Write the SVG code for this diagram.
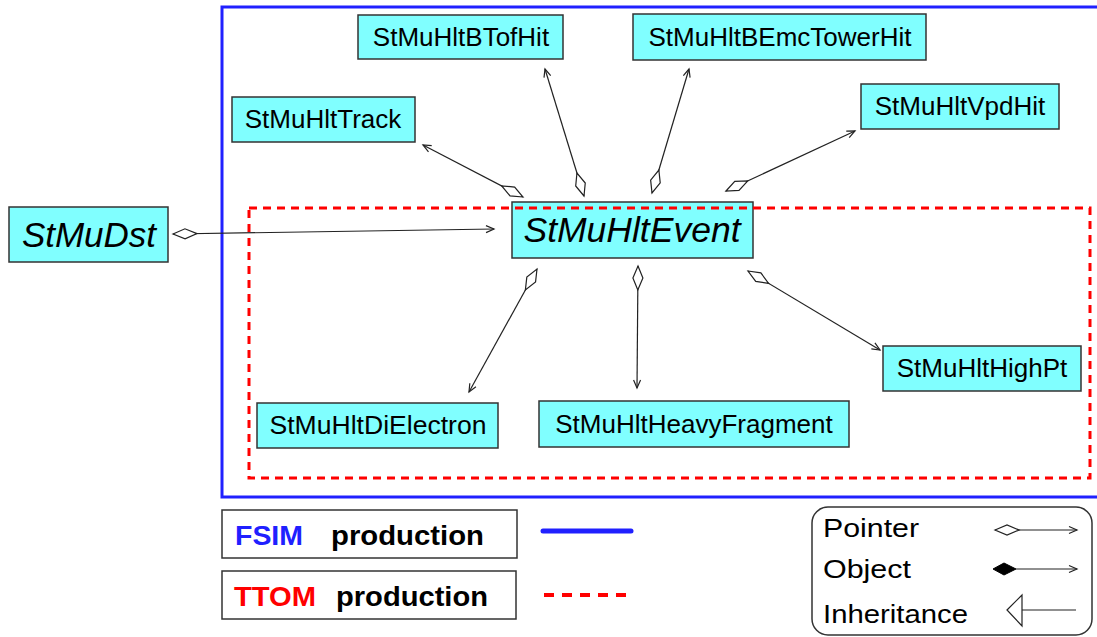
<svg xmlns="http://www.w3.org/2000/svg" width="1097" height="637" viewBox="0 0 1097 637">
  <style>
    .node rect { fill: #80ffff; stroke: #333333; stroke-width: 1.5; }
    .node text { font-family: "Liberation Sans", Arial, sans-serif; font-size: 26px; fill: #000; text-anchor: middle; }
    .node text.main { font-size: 35px; font-style: italic; }
    .conn line { stroke: #222222; stroke-width: 1.2; fill: none; }
    .legend text { font-family: "Liberation Sans", Arial, sans-serif; fill: #000; }
    .legend .bold { font-weight: bold; font-size: 27px; }
    .legend .reg { font-size: 26px; }
  </style>
  <defs>
    <marker id="diamond" markerUnits="userSpaceOnUse" markerWidth="30" markerHeight="14" viewBox="-1 -7 28 14" refX="0" refY="0" orient="auto">
      <path d="M0,0 L12,-5 L24,0 L12,5 Z" fill="#ffffff" stroke="#222222" stroke-width="1.2"/>
    </marker>
    <marker id="arrow" markerUnits="userSpaceOnUse" markerWidth="12" markerHeight="10" viewBox="-10 -5 12 10" refX="0" refY="0" orient="auto">
      <path d="M-8,-3.5 L0,0 L-8,3.5" fill="none" stroke="#222222" stroke-width="1.2"/>
    </marker>
  </defs>

  <rect x="0" y="0" width="1097" height="637" fill="#ffffff"/>

  <!-- FSIM production frame (solid blue) -->
  <rect x="222" y="7" width="900" height="490" fill="none" stroke="#2020ff" stroke-width="3"/>

  <!-- connectors -->
  <g id="connectors" class="conn">
    <line x1="523" y1="197" x2="423" y2="145" marker-start="url(#diamond)" marker-end="url(#arrow)"/>
    <line x1="584" y1="196" x2="545" y2="69" marker-start="url(#diamond)" marker-end="url(#arrow)"/>
    <line x1="652" y1="193" x2="689" y2="69" marker-start="url(#diamond)" marker-end="url(#arrow)"/>
    <line x1="726" y1="191" x2="855" y2="131" marker-start="url(#diamond)" marker-end="url(#arrow)"/>
    <line x1="173" y1="234" x2="494" y2="229" marker-start="url(#diamond)" marker-end="url(#arrow)"/>
    <line x1="537" y1="269" x2="469" y2="392" marker-start="url(#diamond)" marker-end="url(#arrow)"/>
    <line x1="638" y1="266" x2="637" y2="388" marker-start="url(#diamond)" marker-end="url(#arrow)"/>
    <line x1="748" y1="271" x2="880" y2="350" marker-start="url(#diamond)" marker-end="url(#arrow)"/>
  </g>

  <!-- class nodes -->
  <g id="StMuDst" class="node">
    <rect x="9" y="207" width="159" height="55"/>
    <text class="main" x="89" y="247">StMuDst</text>
  </g>
  <g id="StMuHltEvent" class="node">
    <rect x="512" y="202" width="241" height="56"/>
    <text class="main" x="632" y="242" textLength="217" lengthAdjust="spacingAndGlyphs">StMuHltEvent</text>
  </g>
  <g id="StMuHltTrack" class="node">
    <rect x="232" y="97" width="183" height="45"/>
    <text x="323" y="128">StMuHltTrack</text>
  </g>
  <g id="StMuHltBTofHit" class="node">
    <rect x="358" y="15" width="205" height="44"/>
    <text x="461" y="46">StMuHltBTofHit</text>
  </g>
  <g id="StMuHltBEmcTowerHit" class="node">
    <rect x="633" y="14" width="293" height="46"/>
    <text x="780" y="46">StMuHltBEmcTowerHit</text>
  </g>
  <g id="StMuHltVpdHit" class="node">
    <rect x="861" y="84" width="198" height="45"/>
    <text x="960" y="115">StMuHltVpdHit</text>
  </g>
  <g id="StMuHltDiElectron" class="node">
    <rect x="257" y="403" width="241" height="45"/>
    <text x="378" y="434" textLength="217" lengthAdjust="spacingAndGlyphs">StMuHltDiElectron</text>
  </g>
  <g id="StMuHltHeavyFragment" class="node">
    <rect x="539" y="401" width="310" height="46"/>
    <text x="694" y="433">StMuHltHeavyFragment</text>
  </g>
  <g id="StMuHltHighPt" class="node">
    <rect x="883" y="346" width="198" height="45"/>
    <text x="982" y="377">StMuHltHighPt</text>
  </g>

  <!-- TTOM production frame (dashed red), drawn over the event box -->
  <rect x="249" y="208" width="841" height="270" fill="none" stroke="#ff0000" stroke-width="3" stroke-dasharray="8 6"/>

  <!-- production legend -->
  <g id="legend-production" class="legend">
    <rect x="222" y="510" width="295" height="48" fill="#ffffff" stroke="#333333" stroke-width="1.5"/>
    <text class="bold" x="235" y="545" style="fill:#2020ff" textLength="68" lengthAdjust="spacingAndGlyphs">FSIM</text>
    <text class="bold" x="331" y="545" textLength="153" lengthAdjust="spacingAndGlyphs">production</text>
    <line x1="543" y1="531" x2="631" y2="531" stroke="#2020ff" stroke-width="5" stroke-linecap="round"/>

    <rect x="222" y="571" width="294" height="48" fill="#ffffff" stroke="#333333" stroke-width="1.5"/>
    <text class="bold" x="234" y="606" style="fill:#ff0000" textLength="82" lengthAdjust="spacingAndGlyphs">TTOM</text>
    <text class="bold" x="336" y="606" textLength="152" lengthAdjust="spacingAndGlyphs">production</text>
    <line x1="544" y1="595" x2="626" y2="595" stroke="#ff0000" stroke-width="4" stroke-dasharray="10 8"/>
  </g>

  <!-- relation legend -->
  <g id="legend-relations" class="legend">
    <rect x="812" y="507" width="280" height="128" rx="16" ry="16" fill="#ffffff" stroke="#333333" stroke-width="1.5"/>
    <text class="reg" x="823" y="537" textLength="96" lengthAdjust="spacingAndGlyphs">Pointer</text>
    <text class="reg" x="823" y="578" textLength="88" lengthAdjust="spacingAndGlyphs">Object</text>
    <text class="reg" x="823" y="623" textLength="145" lengthAdjust="spacingAndGlyphs">Inheritance</text>

    <line x1="995" y1="530" x2="1077" y2="530" stroke="#222222" stroke-width="1.2" marker-start="url(#diamond)" marker-end="url(#arrow)"/>
    <line x1="1016" y1="569" x2="1077" y2="569" stroke="#222222" stroke-width="1.2" marker-end="url(#arrow)"/>
    <path d="M993,569 L1004,563 L1016,569 L1004,575 Z" fill="#000000" stroke="#000000" stroke-width="1"/>
    <line x1="1022" y1="610" x2="1076" y2="610" stroke="#222222" stroke-width="1.2"/>
    <path d="M1007,610 L1022,595 L1022,626 Z" fill="#ffffff" stroke="#222222" stroke-width="1.2"/>
  </g>
</svg>
